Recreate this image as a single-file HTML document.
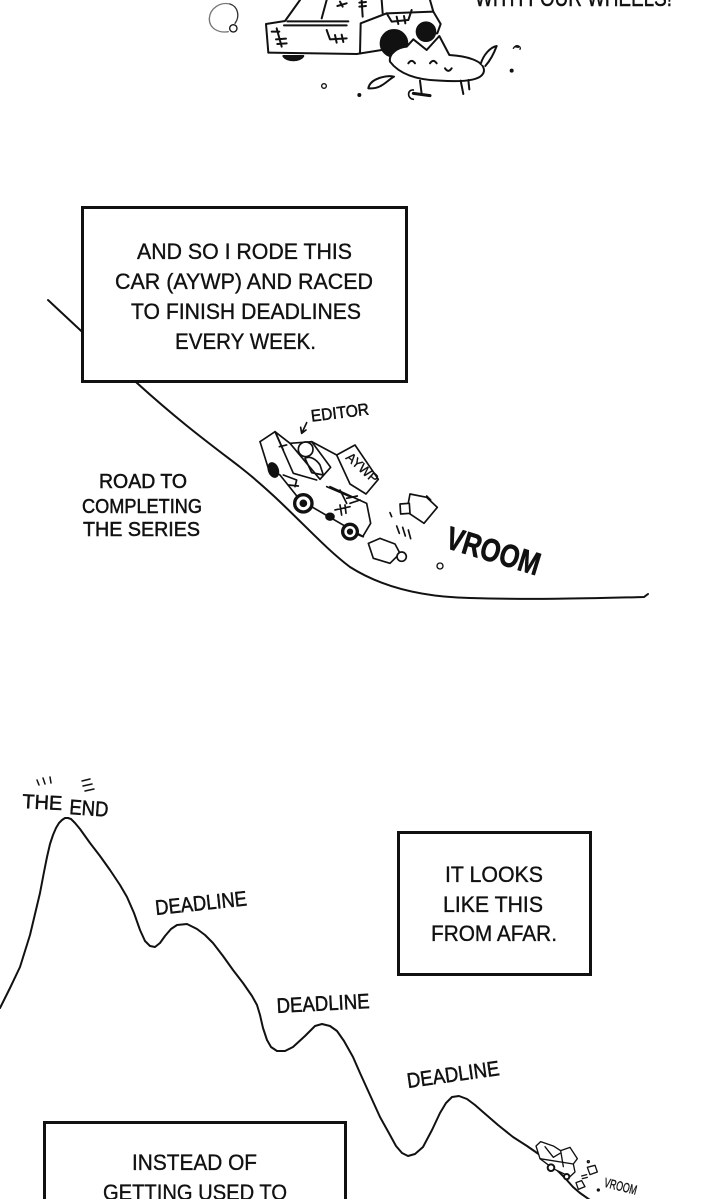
<!DOCTYPE html>
<html>
<head>
<meta charset="utf-8">
<style>
  html,body{margin:0;padding:0;background:#fff;}
  body{width:720px;height:1199px;overflow:hidden;}
  svg{display:block;}
  .hw{font-family:"Liberation Sans","DejaVu Sans",sans-serif;fill:#111;stroke:#111;stroke-width:0.5;}
  .bx{font-family:"Liberation Sans","DejaVu Sans",sans-serif;fill:#111;stroke:#111;stroke-width:0.35;font-size:22px;}
</style>
</head>
<body>
<svg width="720" height="1199" viewBox="0 0 720 1199" xmlns="http://www.w3.org/2000/svg">
  <rect x="0" y="0" width="720" height="1199" fill="#fff"/>

  <!-- ============ TOP: car + dog ============ -->
  <text class="hw" x="475" y="6" font-size="24" textLength="197" lengthAdjust="spacingAndGlyphs">WITH FOUR WHEELS!</text>

  <g transform="translate(200,0) scale(0.33333)" fill="none" stroke="#111" stroke-width="6" stroke-linecap="round" stroke-linejoin="round">
    <!-- swirl -->
    <path d="M90,12 C60,5 30,25 28,55 C27,85 55,100 85,95" stroke="#777" stroke-width="4"/>
    <path d="M90,12 C115,20 120,50 105,70" stroke="#333" stroke-width="4"/>
    <circle cx="100" cy="85" r="11" stroke-width="4"/>
    <!-- car -->
    <path d="M205,158 L198,72 L255,63 L300,0"/>
    <path d="M365,55 L380,0"/>
    <path d="M262,64 L445,64"/>
    <path d="M252,76 L440,76"/>
    <path d="M205,158 L470,162 L545,150"/>
    <path d="M480,160 L482,70 L560,40 L700,35 L722,72 L712,100 L690,100"/>
    <path d="M545,0 L548,40"/>
    <path d="M700,35 L690,0"/>
    <path d="M485,2 L488,50"/>
    <path d="M478,8 L498,6"/>
    <path d="M478,20 L498,18"/>
    <path d="M420,5 L428,20 M412,18 L440,10"/>
    <path d="M215,95 L238,95 M230,85 L245,140 M228,118 L258,116 M232,132 L260,130"/>
    <path d="M380,90 L390,118 L440,115 M405,105 L410,128 M425,104 L430,126"/>
    <path d="M560,40 L575,65 L625,60 L635,30 M590,50 L595,72 M612,48 L616,70"/>
    <path d="M250,168 C260,185 300,185 310,168 Z" fill="#111"/>
    <circle cx="582" cy="130" r="40" fill="#111"/>
    <circle cx="678" cy="95" r="28" fill="#111"/>
    <!-- dog -->
    <path d="M570,185 C565,160 595,142 620,140 L640,118 L680,150 L718,108 L748,165 C800,168 850,182 852,210 C852,240 800,247 720,242 C650,240 598,222 570,185 Z" fill="#fff"/>
    <path d="M842,192 C850,165 870,142 890,138 C882,160 870,182 856,198" fill="#fff"/>
    <path d="M625,190 Q635,175 645,190"/>
    <path d="M690,190 Q700,175 710,190"/>
    <path d="M735,205 Q745,220 755,205"/>
    <path d="M660,242 L665,282"/>
    <path d="M782,242 L790,282"/>
    <path d="M805,240 L808,268"/>
    <path d="M640,280 L690,287" stroke-width="9"/>
    <path d="M640,270 C622,268 620,295 640,298" stroke-width="5"/>
    <path d="M505,265 C510,235 560,225 582,230 C560,242 545,268 505,265 Z"/>
    <circle cx="372" cy="258" r="7" stroke-width="4"/>
    <circle cx="478" cy="285" r="3" fill="#111"/>
    <path d="M940,145 C950,130 965,140 960,148 M945,140 L955,142" stroke-width="4"/>
    <circle cx="935" cy="212" r="3" fill="#111"/>
  </g>

  <!-- ============ ROAD 1 ============ -->
  <path d="M48,300 L137,383 C180,422 210,444 240,467 C285,502 318,543 350,567 C380,586 420,597 470,598 C540,600 600,598 644,597 L648,594" fill="none" stroke="#111" stroke-width="2" stroke-linecap="round"/>

  <!-- box 1 -->
  <rect x="82.5" y="207.5" width="324" height="174" fill="#fff" stroke="#111" stroke-width="3"/>
  <text class="bx" x="244.5" y="259" text-anchor="middle" textLength="215" lengthAdjust="spacingAndGlyphs">AND SO I RODE THIS</text>
  <text class="bx" x="244" y="289" text-anchor="middle" textLength="258" lengthAdjust="spacingAndGlyphs">CAR (AYWP) AND RACED</text>
  <text class="bx" x="246" y="319" text-anchor="middle" textLength="230" lengthAdjust="spacingAndGlyphs">TO FINISH DEADLINES</text>
  <text class="bx" x="245.5" y="349" text-anchor="middle" textLength="141" lengthAdjust="spacingAndGlyphs">EVERY WEEK.</text>

  <!-- road label -->
  <text class="hw" x="143" y="488" font-size="20" text-anchor="middle" textLength="88" lengthAdjust="spacingAndGlyphs">ROAD TO</text>
  <text class="hw" x="142" y="513" font-size="20" text-anchor="middle" textLength="120" lengthAdjust="spacingAndGlyphs">COMPLETING</text>
  <text class="hw" x="141.5" y="536" font-size="20" text-anchor="middle" textLength="117" lengthAdjust="spacingAndGlyphs">THE SERIES</text>

  <!-- main car -->
  <g transform="translate(240,390) scale(0.33333)" fill="none" stroke="#111" stroke-width="5" stroke-linecap="round" stroke-linejoin="round">
    <text x="215" y="95" font-family="Liberation Sans, sans-serif" font-size="50" fill="#111" stroke="#111" stroke-width="1.5" textLength="175" lengthAdjust="spacingAndGlyphs" transform="rotate(-7 215 95)">EDITOR</text>
    <path d="M200,98 L185,130 M185,130 L182,112 M185,130 L198,120"/>
    <!-- body -->
    <path d="M60,155 L105,125 L150,160 L215,155 L290,195"/>
    <path d="M60,155 L85,235 L120,255 L180,330"/>
    <path d="M105,125 L160,250 L230,270"/>
    <path d="M150,160 L240,268 L272,232 L215,155"/>
    <path d="M290,195 L345,165 L415,268 L378,312 L330,282 Z" fill="#fff"/>
    <text x="315" y="205" font-family="Liberation Sans, sans-serif" font-size="40" fill="#111" stroke="#111" stroke-width="1" transform="rotate(42 315 205)">AYWP</text>
    <path d="M270,290 L380,340 L392,400 L368,440 L345,430"/>
    <path d="M180,330 L370,440"/>
    <path d="M130,255 L170,270 L165,290 M145,285 L175,288"/>
    <path d="M260,290 L330,320 M300,300 L320,340 M320,325 L352,318 M330,340 L360,330"/>
    <path d="M285,360 L330,350 M300,345 L305,375 M315,345 L318,370"/>
    <path d="M110,135 L130,180 M118,170 L140,165"/>
    <circle cx="197" cy="178" r="22" fill="#fff"/>
    <path d="M195,205 C210,195 230,210 240,225 L250,255 L215,248 Z"/>
    <ellipse cx="100" cy="240" rx="14" ry="22" fill="#111" transform="rotate(-20 100 240)"/>
    <circle cx="190" cy="340" r="26" fill="#fff" stroke-width="10"/>
    <circle cx="190" cy="340" r="9" fill="#111"/>
    <circle cx="330" cy="425" r="22" fill="#fff" stroke-width="10"/>
    <circle cx="330" cy="425" r="7" fill="#111"/>
    <ellipse cx="270" cy="380" rx="12" ry="10" fill="#111"/>
    <!-- debris -->
    <path d="M510,312 L560,322 L592,352 L552,400 L500,365 Z" fill="#fff"/>
    <path d="M480,342 L508,340 L510,370 L482,372 Z" fill="#fff"/>
    <path d="M560,318 L572,330"/>
    <path d="M385,460 L420,445 L465,462 L480,490 L450,520 L400,505 Z" fill="#fff"/>
    <circle cx="485" cy="500" r="14" fill="#fff"/>
    <path d="M470,408 L478,430 M488,412 L496,438 M505,420 L512,446"/>
    <path d="M450,368 L455,380"/>
    <circle cx="600" cy="528" r="9" stroke-width="4"/>
    <text x="612" y="472" font-family="Liberation Sans, sans-serif" font-weight="bold" font-size="96" fill="#111" stroke="#111" stroke-width="2" textLength="290" lengthAdjust="spacingAndGlyphs" transform="rotate(17 612 472)">VROOM</text>
  </g>

  <!-- ============ MOUNTAIN ============ -->
  <polyline fill="none" stroke="#111" stroke-width="2" stroke-linecap="round" stroke-linejoin="round"
    points="0,1008 10,988 20,967 30,935 40,893 44,872 47,857 50,844 53,835 56,828 59,823 62,820 65,818 68,818 71,819 75,823 80,829 90,843 100,856 110,870 120,885 127,897 134,913 140,930 145,941 150,946 155,947 160,943 165,936 171,929 177,925 187,924 197,929 205,935 213,943 223,956 233,970 243,983 252,996 257,1005 260,1015 263,1028 267,1040 271,1047 277,1051 285,1051 293,1047 305,1036 315,1026 322,1024 330,1026 337,1031 344,1041 353,1057 360,1073 370,1095 380,1117 390,1135 396,1146 402,1153 408,1156 415,1154 423,1147 432,1130 440,1113 446,1103 452,1097 459,1096 467,1099 475,1105 483,1112 498,1125 513,1137 527,1146 540,1155 548,1162 557,1170 565,1178 573,1187 580,1193 590,1200"/>

  <!-- THE END -->
  <text class="hw" x="22" y="808" font-size="20" textLength="40" lengthAdjust="spacingAndGlyphs" transform="rotate(3 22 808)">THE</text>
  <text class="hw" x="69" y="814" font-size="21" textLength="39" lengthAdjust="spacingAndGlyphs" transform="rotate(4 69 814)">END</text>
  <path d="M37,780 L39,785 M43,778 L45,784 M50,777 L51,783" stroke="#111" stroke-width="1.5" fill="none" stroke-linecap="round"/>
  <path d="M82,781 L90,779 M83,786 L92,784 M85,791 L94,789" stroke="#111" stroke-width="1.5" fill="none" stroke-linecap="round"/>

  <!-- DEADLINES -->
  <text class="hw" x="156" y="915" font-size="21" textLength="92" lengthAdjust="spacingAndGlyphs" transform="rotate(-6 156 915)">DEADLINE</text>
  <text class="hw" x="277" y="1013" font-size="21" textLength="93" lengthAdjust="spacingAndGlyphs" transform="rotate(-3 277 1013)">DEADLINE</text>
  <text class="hw" x="408" y="1088" font-size="21" textLength="93" lengthAdjust="spacingAndGlyphs" transform="rotate(-8 408 1088)">DEADLINE</text>

  <!-- box 2 -->
  <rect x="398.5" y="832.5" width="192" height="142" fill="#fff" stroke="#111" stroke-width="3"/>
  <text class="bx" x="494" y="882" text-anchor="middle" textLength="98" lengthAdjust="spacingAndGlyphs">IT LOOKS</text>
  <text class="bx" x="493" y="912" text-anchor="middle" textLength="100" lengthAdjust="spacingAndGlyphs">LIKE THIS</text>
  <text class="bx" x="494" y="941" text-anchor="middle" textLength="126" lengthAdjust="spacingAndGlyphs">FROM AFAR.</text>

  <!-- box 3 -->
  <rect x="44.5" y="1122.5" width="301" height="100" fill="#fff" stroke="#111" stroke-width="3"/>
  <text class="bx" x="194.5" y="1170" text-anchor="middle" textLength="125" lengthAdjust="spacingAndGlyphs">INSTEAD OF</text>
  <text class="bx" x="195" y="1200" text-anchor="middle" textLength="184" lengthAdjust="spacingAndGlyphs">GETTING USED TO</text>

  <!-- mini car -->
  <g transform="translate(340,1040) scale(0.33333)" fill="none" stroke="#111" stroke-width="4" stroke-linecap="round" stroke-linejoin="round">
    <path d="M588,318 L602,305 L640,318 L662,332 L690,322 L712,356 L700,372 L705,396 L690,410 L640,386 L600,356 Z" fill="#fff"/>
    <path d="M615,320 L640,352 L660,340 M662,332 L670,380 M600,356 L700,372"/>
    <circle cx="633" cy="383" r="10" fill="#fff" stroke-width="6"/>
    <circle cx="680" cy="410" r="8" fill="#fff" stroke-width="6"/>
    <path d="M742,382 L765,376 L772,396 L750,404 Z"/>
    <path d="M708,428 L725,422 L735,440 L715,448 Z"/>
    <path d="M725,408 L740,404 M727,416 L742,412"/>
    <circle cx="775" cy="450" r="3" fill="#111"/>
    <circle cx="745" cy="365" r="3"/>
    <text x="790" y="440" font-family="Liberation Sans, sans-serif" font-size="40" fill="#111" stroke="#111" stroke-width="1" textLength="100" lengthAdjust="spacingAndGlyphs" transform="rotate(14 790 440)">VROOM</text>
  </g>
</svg>
</body>
</html>
